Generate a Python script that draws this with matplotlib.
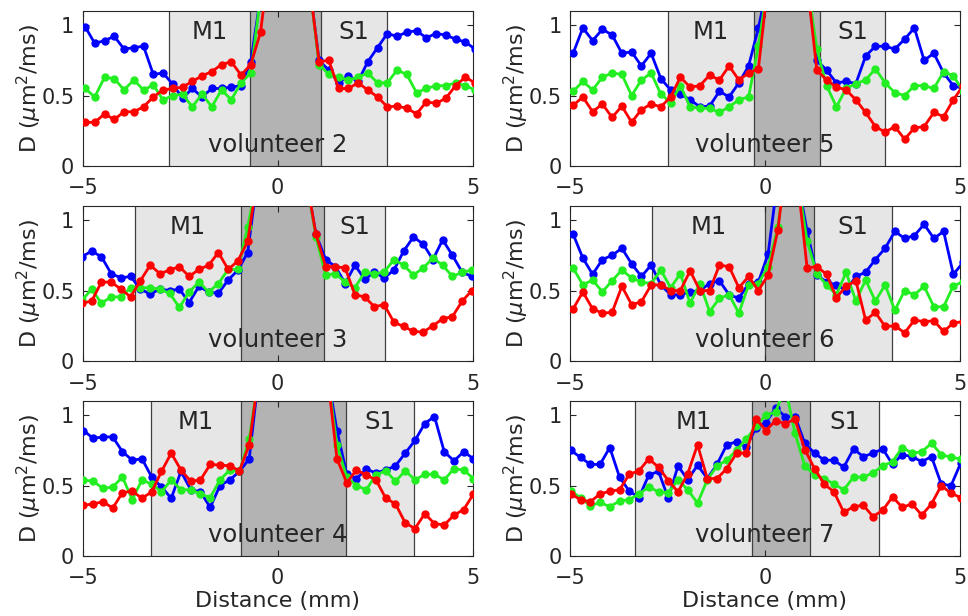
import numpy as np
import matplotlib
matplotlib.use("Agg")
import matplotlib.pyplot as plt

# off-scale points (inside the dark band) are given as 1.3 / 1.5
labels = ["volunteer 2", "volunteer 5", "volunteer 3", "volunteer 6", "volunteer 4", "volunteer 7"]

# first sample position of each profile (mm), spacing 0.25 mm, 41 samples
x_start = [-4.94, -4.92, -5.02, -4.92, -4.98, -4.98]
step = 0.25

# region edges: M1 start, dark band start, dark band end, S1 end (mm)
m1_start = [-2.8, -2.49, -3.66, -2.9, -3.26, -3.34]
dark_start = [-0.71, -0.29, -0.94, 0.0, -0.95, -0.33]
dark_end = [1.11, 1.42, 1.19, 1.26, 1.74, 1.16]
s1_end = [2.79, 3.07, 2.75, 3.26, 3.5, 2.93]

blue_v2 = [0.99, 0.87, 0.89, 0.92, 0.83, 0.84, 0.85, 0.65, 0.66, 0.58, 0.48, 0.55, 0.49, 0.55, 0.55, 0.56, 0.57, 0.74,
           1.2, 1.5, 1.5, 1.5, 1.5, 1.3,
           0.75, 0.68, 0.59, 0.64, 0.60, 0.74, 0.84, 0.94, 0.92, 0.95, 0.96, 0.91, 0.94, 0.93, 0.90, 0.88, 0.83]
green_v2 = [0.55, 0.49, 0.63, 0.62, 0.54, 0.61, 0.54, 0.575, 0.47, 0.50, 0.51, 0.42, 0.51, 0.42, 0.54, 0.47, 0.59, 0.66,
            1.2, 1.5, 1.5, 1.5, 1.5, 1.3,
            0.72, 0.65, 0.63, 0.61, 0.63, 0.66, 0.59, 0.59, 0.68, 0.65, 0.52, 0.55, 0.57, 0.57, 0.59, 0.57, 0.54]
red_v2 = [0.31, 0.31, 0.37, 0.33, 0.385, 0.385, 0.42, 0.49, 0.54, 0.55, 0.56, 0.60, 0.64, 0.67, 0.72, 0.74, 0.645, 0.72,
          0.95, 1.5, 1.5, 1.5, 1.5, 1.3,
          0.74, 0.75, 0.55, 0.55, 0.59, 0.54, 0.49, 0.42, 0.425, 0.41, 0.37, 0.455, 0.445, 0.48, 0.57, 0.63, 0.59]

blue_v5 = [0.80, 0.98, 0.89, 0.97, 0.93, 0.80, 0.81, 0.71, 0.80, 0.62, 0.54, 0.51, 0.47, 0.42, 0.425, 0.53, 0.49, 0.59, 0.71, 0.98,
           1.3, 1.5, 1.5, 1.5, 1.3,
           0.75, 0.68, 0.59, 0.60, 0.585, 0.78, 0.85, 0.85, 0.83, 0.90, 0.98, 0.75, 0.80, 0.66, 0.57, 0.55]
green_v5 = [0.53, 0.60, 0.54, 0.63, 0.66, 0.65, 0.50, 0.61, 0.66, 0.51, 0.45, 0.57, 0.42, 0.41, 0.41, 0.38, 0.42, 0.47, 0.49, 0.85,
            1.3, 1.5, 1.5, 1.5, 1.3,
            0.83, 0.57, 0.42, 0.55, 0.585, 0.61, 0.69, 0.59, 0.52, 0.50, 0.57, 0.57, 0.55, 0.67, 0.64, 0.53]
red_v5 = [0.43, 0.49, 0.385, 0.44, 0.345, 0.425, 0.31, 0.40, 0.44, 0.42, 0.49, 0.63, 0.56, 0.57, 0.645, 0.61, 0.71, 0.61, 0.66, 0.69,
          1.3, 1.5, 1.5, 1.5, 1.3,
          0.68, 0.61, 0.56, 0.54, 0.47, 0.38, 0.28, 0.24, 0.28, 0.19, 0.27, 0.28, 0.38, 0.35, 0.47, 0.57]

blue_v3 = [0.74, 0.78, 0.74, 0.62, 0.59, 0.60, 0.51, 0.475, 0.51, 0.50, 0.51, 0.415, 0.53, 0.49, 0.48, 0.575, 0.645, 0.77,
           1.3, 1.5, 1.5, 1.5, 1.5, 1.3, 0.90,
           0.72, 0.67, 0.55, 0.68, 0.58, 0.63, 0.59, 0.645, 0.78, 0.88, 0.83, 0.72, 0.86, 0.75, 0.63, 0.60]
green_v3 = [0.43, 0.51, 0.41, 0.455, 0.455, 0.52, 0.52, 0.52, 0.51, 0.48, 0.38, 0.49, 0.56, 0.49, 0.55, 0.65, 0.65, 0.95,
            1.3, 1.5, 1.5, 1.5, 1.5, 1.3, 0.88,
            0.61, 0.62, 0.56, 0.52, 0.63, 0.62, 0.63, 0.72, 0.68, 0.61, 0.66, 0.73, 0.68, 0.60, 0.63, 0.645]
red_v3 = [0.41, 0.425, 0.56, 0.56, 0.51, 0.455, 0.57, 0.68, 0.62, 0.645, 0.67, 0.60, 0.65, 0.68, 0.77, 0.65, 0.71, 0.85,
          1.3, 1.5, 1.5, 1.5, 1.5, 1.3, 0.90,
          0.67, 0.67, 0.66, 0.47, 0.455, 0.385, 0.40, 0.275, 0.245, 0.21, 0.205, 0.25, 0.30, 0.315, 0.425, 0.50]

blue_v6 = [0.90, 0.73, 0.615, 0.72, 0.75, 0.80, 0.69, 0.60, 0.68, 0.54, 0.47, 0.47, 0.49, 0.50, 0.55, 0.57, 0.47, 0.445, 0.55, 0.56, 0.76,
           1.3, 1.5, 1.3, 0.92,
           0.61, 0.56, 0.54, 0.50, 0.60, 0.63, 0.72, 0.80, 0.92, 0.87, 0.89, 0.97, 0.87, 0.92, 0.615, 0.70]
green_v6 = [0.66, 0.54, 0.575, 0.49, 0.57, 0.645, 0.59, 0.56, 0.55, 0.645, 0.52, 0.62, 0.41, 0.55, 0.35, 0.445, 0.47, 0.34, 0.54, 0.55, 0.67,
            0.95, 1.5, 1.3, 0.85,
            0.62, 0.54, 0.47, 0.63, 0.425, 0.575, 0.425, 0.54, 0.36, 0.50, 0.47, 0.53, 0.385, 0.385, 0.535, 0.56]
red_v6 = [0.37, 0.49, 0.37, 0.34, 0.345, 0.53, 0.40, 0.42, 0.54, 0.54, 0.50, 0.50, 0.64, 0.50, 0.50, 0.68, 0.67, 0.52, 0.60, 0.50, 0.61,
          0.93, 1.5, 1.3, 0.66,
          0.67, 0.615, 0.45, 0.53, 0.57, 0.29, 0.345, 0.245, 0.25, 0.20, 0.29, 0.28, 0.285, 0.21, 0.27, 0.28]

blue_v4 = [0.89, 0.835, 0.845, 0.845, 0.74, 0.68, 0.69, 0.56, 0.49, 0.41, 0.60, 0.47, 0.455, 0.345, 0.50, 0.54, 0.60, 0.69,
           1.3, 1.5, 1.5, 1.5, 1.5, 1.5, 1.5, 1.3, 0.89,
           0.58, 0.55, 0.615, 0.59, 0.61, 0.64, 0.73, 0.82, 0.94, 0.99, 0.74, 0.675, 0.74, 0.69]
green_v4 = [0.54, 0.53, 0.48, 0.49, 0.56, 0.40, 0.54, 0.51, 0.455, 0.54, 0.47, 0.47, 0.44, 0.415, 0.54, 0.61, 0.60, 0.83,
            1.3, 1.5, 1.5, 1.5, 1.5, 1.5, 1.5, 1.3, 0.79,
            0.56, 0.50, 0.47, 0.575, 0.605, 0.53, 0.605, 0.54, 0.58, 0.58, 0.54, 0.62, 0.61, 0.55]
red_v4 = [0.36, 0.37, 0.385, 0.34, 0.45, 0.46, 0.41, 0.455, 0.60, 0.73, 0.61, 0.53, 0.54, 0.65, 0.645, 0.64, 0.605, 0.79,
          1.3, 1.5, 1.5, 1.5, 1.5, 1.5, 1.5, 1.3, 0.69,
          0.52, 0.61, 0.575, 0.54, 0.41, 0.37, 0.235, 0.195, 0.30, 0.23, 0.22, 0.29, 0.33, 0.44]

blue_v7 = [0.75, 0.70, 0.65, 0.65, 0.77, 0.56, 0.46, 0.415, 0.575, 0.60, 0.41, 0.64, 0.54, 0.645, 0.55, 0.65, 0.79, 0.81, 0.775, 0.91,
           0.945, 1.05, 0.99, 0.99, 0.80, 0.73, 0.68, 0.68, 0.63, 0.76, 0.705, 0.73, 0.76, 0.65, 0.72, 0.705, 0.67, 0.705, 0.51, 0.50, 0.66]
green_v7 = [0.46, 0.415, 0.355, 0.38, 0.35, 0.39, 0.40, 0.44, 0.49, 0.455, 0.45, 0.54, 0.47, 0.375, 0.54, 0.64, 0.68, 0.75, 0.83, 0.92,
            1.0, 1.02, 1.2, 0.87, 0.64, 0.575, 0.55, 0.51, 0.47, 0.56, 0.56, 0.59, 0.64, 0.67, 0.77, 0.73, 0.74, 0.80, 0.72, 0.70, 0.69]
red_v7 = [0.44, 0.40, 0.385, 0.44, 0.46, 0.47, 0.58, 0.605, 0.69, 0.63, 0.535, 0.455, 0.585, 0.79, 0.55, 0.55, 0.62, 0.73, 0.73, 0.975,
          0.89, 0.96, 0.94, 0.97, 0.755, 0.62, 0.51, 0.455, 0.31, 0.35, 0.36, 0.28, 0.325, 0.42, 0.345, 0.37, 0.29, 0.37, 0.50, 0.445, 0.415]

blue = [blue_v2, blue_v5, blue_v3, blue_v6, blue_v4, blue_v7]
green = [green_v2, green_v5, green_v3, green_v6, green_v4, green_v7]
red = [red_v2, red_v5, red_v3, red_v6, red_v4, red_v7]

plt.rcParams['font.family'] = 'DejaVu Sans'
plt.rcParams['font.size'] = 15

W, H = 968, 616
fig = plt.figure(figsize=(W / 100, H / 100), dpi=100)

lefts = [82.7, 570]
tops = [11, 206, 401]
aw, ah = 390, 155
txt = '#262626'

for i in range(6):
    row, col = i // 2, i % 2
    ax = fig.add_axes([lefts[col] / W, 1 - (tops[row] + ah) / H, aw / W, ah / H])

    ax.axvspan(m1_start[i], dark_start[i], color='#e6e6e6', lw=0, zorder=0)
    ax.axvspan(dark_start[i], dark_end[i], color='#b3b3b3', lw=0, zorder=0)
    ax.axvspan(dark_end[i], s1_end[i], color='#e6e6e6', lw=0, zorder=0)
    for xe in [m1_start[i], dark_start[i], dark_end[i], s1_end[i]]:
        ax.axvline(xe, color='#404040', lw=0.9, zorder=1)

    x = x_start[i] + step * np.arange(len(blue[i]))
    for vals, c in [(blue[i], '#0000ff'), (green[i], '#22ee22'), (red[i], '#ff0000')]:
        ax.plot(x, vals, '-o', color=c, lw=2.0, ms=5, zorder=3)

    ax.text((m1_start[i] + dark_start[i]) / 2, 0.95, 'M1', ha='center', va='center', fontsize=17.5, color=txt, zorder=4)
    ax.text((dark_end[i] + s1_end[i]) / 2, 0.95, 'S1', ha='center', va='center', fontsize=17.5, color=txt, zorder=4)
    ax.text(0.5, 0.135, labels[i], transform=ax.transAxes, ha='center', va='center', fontsize=17.5,
            color=txt, zorder=4)

    ax.set_xlim(-5, 5)
    ax.set_ylim(0, 1.1)
    ax.set_xticks([-5, 0, 5])
    ax.set_yticks([0, 0.5, 1])
    ax.set_yticklabels(['0', '0.5', '1'])
    ax.tick_params(direction='in', top=True, right=True, length=4, width=0.8, colors=txt, labelcolor=txt)
    ax.tick_params(axis='x', pad=9)
    ax.tick_params(axis='y', pad=6)
    for s in ax.spines.values():
        s.set_color(txt)
        s.set_linewidth(0.8)
    ax.set_ylabel(r'D ($\mu$m$^2$/ms)', color=txt, fontsize=16, labelpad=-2)
    if row == 2:
        ax.set_xlabel('Distance (mm)', color=txt, fontsize=16, labelpad=2)

fig.savefig('out.png', dpi=100)
